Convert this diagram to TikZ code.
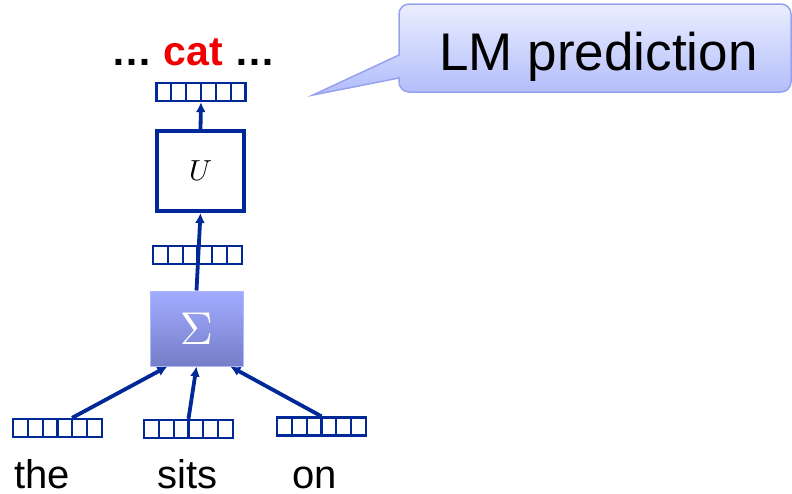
\documentclass[tikz,border=0pt]{standalone}
\usepackage{graphicx}
\usepackage{fontspec}
\setsansfont{Liberation Sans}
\usetikzlibrary{arrows.meta,calc}
\definecolor{nnblue}{RGB}{0,40,150}
\definecolor{sigtop}{RGB}{162,172,255}
\definecolor{sigbot}{RGB}{118,126,200}
\definecolor{sigedge}{RGB}{175,185,255}
\definecolor{calltop}{RGB}{234,238,255}
\definecolor{callbot}{RGB}{178,188,250}
\definecolor{calledge}{RGB}{150,162,240}
\definecolor{catred}{RGB}{240,0,0}
\tikzset{
  vecbox/.style={draw=nnblue, line width=2.3pt, minimum width=89pt, minimum height=18pt, inner sep=0pt,
    path picture={\foreach \i in {1,...,5}{\draw[nnblue, line width=2.1pt]
      ($(path picture bounding box.south west)!\i/6!(path picture bounding box.south east)$) --
      ($(path picture bounding box.north west)!\i/6!(path picture bounding box.north east)$);}}},
  ubox/.style={draw=nnblue, line width=4pt, minimum width=87pt, minimum height=80pt, inner sep=0pt},
  sigbox/.style={draw=sigedge, line width=1pt, top color=sigtop, bottom color=sigbot, minimum width=93pt, minimum height=75pt, inner sep=0pt},
  arr/.style={draw=nnblue, line width=3.8pt, -{Latex[length=10pt,width=10pt]}},
  word/.style={font=\sffamily\fontsize{40}{46}\selectfont, anchor=base, inner sep=0pt},
  callout/.style={draw=calledge, line width=1.5pt, top color=calltop, bottom color=callbot}
}
\begin{document}
\begin{tikzpicture}[x=1pt,y=-1pt]
\useasboundingbox (0,0) rectangle (792,493);
% callout
\path[callout] (399,55) -- (399,14) arc[start angle=180,end angle=270,radius=10] -- (781,4)
  arc[start angle=270,end angle=360,radius=10] -- (791,82)
  arc[start angle=0,end angle=90,radius=10] -- (409,92)
  arc[start angle=90,end angle=180,radius=10] -- (399,78) -- (313,95) -- cycle;
\node[font=\sffamily\fontsize{53}{60}\selectfont, anchor=base, inner sep=0pt] (lm) at (598.5,70) {LM prediction};
% top text
\node[font=\sffamily\bfseries\fontsize{41}{48}\selectfont, anchor=base, inner sep=0pt] (out) at (193.5,65) {…\ \textcolor{catred}{cat} …};
% vectors
\node[vecbox] (topvec) at (201,92) {};
\node[ubox] (U) at (200.5,171) {\scalebox{2.9}{$U$}};
\node[vecbox] (midvec) at (197.5,255) {};
\node[sigbox] (sig) at (196.5,328.5) {\color{white}\scalebox{4.6}{$\Sigma$}};
\node[vecbox] (thevec) at (57.5,428) {};
\node[vecbox] (sitsvec) at (188.5,429) {};
\node[vecbox] (onvec) at (321.5,426.5) {};
% words
\node[word] (the) at (42,488.5) {the};
\node[word] (sits) at (187.5,488.5) {sits};
\node[word] (on) at (315,488.5) {on};
% arrows
\draw[arr] (U.north) -- (topvec.south);
\draw[arr] (sig.north) -- (U.south);
\draw[arr] ($(thevec.north west)!0.66!(thevec.north east)$) -- ($(sig.south west)!0.19!(sig.south east)$);
\draw[arr] (sitsvec.north) -- (sig.south);
\draw[arr] (onvec.north) -- ($(sig.south west)!0.86!(sig.south east)$);
\end{tikzpicture}
\end{document}
